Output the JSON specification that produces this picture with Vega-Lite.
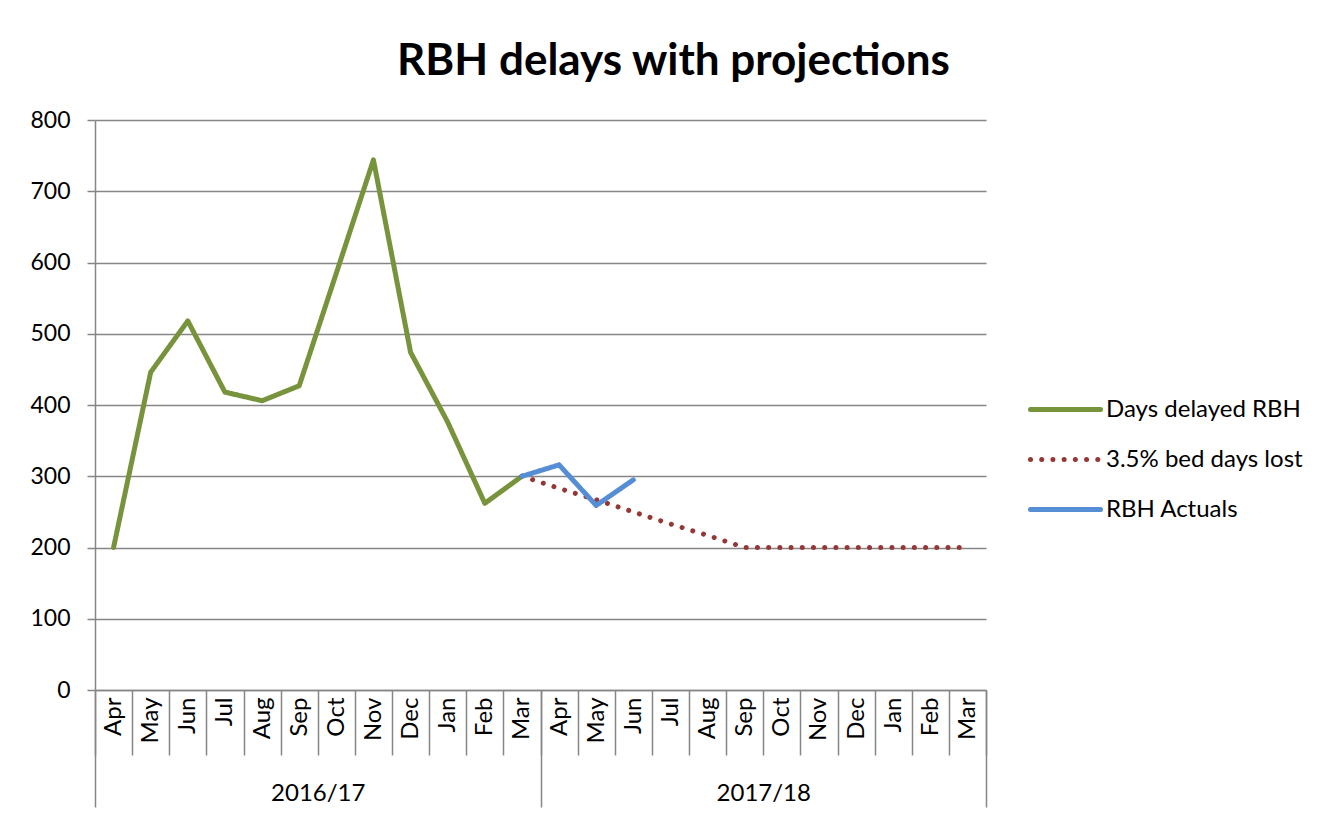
{
  "$schema": "https://vega.github.io/schema/vega-lite/v6.json",
  "width": 891,
  "height": 570,
  "autosize": {"type": "none"},
  "padding": {"left": 95, "top": 120, "right": 335, "bottom": 130},
  "background": "white",
  "title": {
    "text": "RBH delays with projections",
    "font": "Lato",
    "fontSize": 44,
    "fontWeight": "bold",
    "color": "black",
    "anchor": "middle",
    "frame": "group",
    "dx": 133,
    "offset": 25
  },
  "config": {
    "view": {"stroke": null},
    "font": "Lato"
  },
  "data": {
    "values": [
      {"key": "2016/17|Apr", "year": "2016/17", "series": "Days delayed RBH", "value": 200},
      {"key": "2016/17|May", "year": "2016/17", "series": "Days delayed RBH", "value": 446},
      {"key": "2016/17|Jun", "year": "2016/17", "series": "Days delayed RBH", "value": 518},
      {"key": "2016/17|Jul", "year": "2016/17", "series": "Days delayed RBH", "value": 418},
      {"key": "2016/17|Aug", "year": "2016/17", "series": "Days delayed RBH", "value": 406},
      {"key": "2016/17|Sep", "year": "2016/17", "series": "Days delayed RBH", "value": 427},
      {"key": "2016/17|Oct", "year": "2016/17", "series": "Days delayed RBH", "value": 585},
      {"key": "2016/17|Nov", "year": "2016/17", "series": "Days delayed RBH", "value": 744},
      {"key": "2016/17|Dec", "year": "2016/17", "series": "Days delayed RBH", "value": 474},
      {"key": "2016/17|Jan", "year": "2016/17", "series": "Days delayed RBH", "value": 376},
      {"key": "2016/17|Feb", "year": "2016/17", "series": "Days delayed RBH", "value": 262},
      {"key": "2016/17|Mar", "year": "2016/17", "series": "Days delayed RBH", "value": 300},
      {"key": "2016/17|Mar", "year": "2016/17", "series": "3.5% bed days lost", "value": 300},
      {"key": "2017/18|Apr", "year": "2017/18", "series": "3.5% bed days lost", "value": 283},
      {"key": "2017/18|May", "year": "2017/18", "series": "3.5% bed days lost", "value": 267},
      {"key": "2017/18|Jun", "year": "2017/18", "series": "3.5% bed days lost", "value": 250},
      {"key": "2017/18|Jul", "year": "2017/18", "series": "3.5% bed days lost", "value": 233},
      {"key": "2017/18|Aug", "year": "2017/18", "series": "3.5% bed days lost", "value": 217},
      {"key": "2017/18|Sep", "year": "2017/18", "series": "3.5% bed days lost", "value": 200},
      {"key": "2017/18|Oct", "year": "2017/18", "series": "3.5% bed days lost", "value": 200},
      {"key": "2017/18|Nov", "year": "2017/18", "series": "3.5% bed days lost", "value": 200},
      {"key": "2017/18|Dec", "year": "2017/18", "series": "3.5% bed days lost", "value": 200},
      {"key": "2017/18|Jan", "year": "2017/18", "series": "3.5% bed days lost", "value": 200},
      {"key": "2017/18|Feb", "year": "2017/18", "series": "3.5% bed days lost", "value": 200},
      {"key": "2017/18|Mar", "year": "2017/18", "series": "3.5% bed days lost", "value": 200},
      {"key": "2016/17|Mar", "year": "2016/17", "series": "RBH Actuals", "value": 300},
      {"key": "2017/18|Apr", "year": "2017/18", "series": "RBH Actuals", "value": 316},
      {"key": "2017/18|May", "year": "2017/18", "series": "RBH Actuals", "value": 259},
      {"key": "2017/18|Jun", "year": "2017/18", "series": "RBH Actuals", "value": 295}
    ]
  },
  "encoding": {
    "y": {
      "field": "value",
      "type": "quantitative",
      "scale": {"domain": [0, 800], "nice": false, "zero": true},
      "axis": {
        "title": null,
        "values": [0, 100, 200, 300, 400, 500, 600, 700, 800],
        "grid": true,
        "gridColor": "#868686",
        "gridWidth": 1.5,
        "domainColor": "#868686",
        "domainWidth": 1.5,
        "tickColor": "#868686",
        "tickWidth": 1.5,
        "tickSize": 8,
        "labelPadding": 17,
        "labelFont": "Lato",
        "labelFontSize": 23,
        "labelColor": "black"
      }
    }
  },
  "layer": [
    {
      "mark": {"type": "tick", "opacity": 0},
      "encoding": {
        "x": {
          "field": "year",
          "type": "ordinal",
          "scale": {"type": "band", "domain": ["2016/17", "2017/18"], "paddingInner": 0, "paddingOuter": 0},
          "axis": {
            "orient": "bottom",
            "title": null,
            "domain": false,
            "tickBand": "extent",
            "tickSize": 117,
            "tickColor": "#868686",
            "tickWidth": 1.5,
            "labelAngle": 0,
            "labelPadding": -26,
            "labelFont": "Lato",
            "labelFontSize": 24,
            "labelColor": "black"
          }
        }
      }
    },
    {
      "mark": {"type": "line", "strokeWidth": 5, "strokeCap": "round", "strokeJoin": "round"},
      "encoding": {
        "x": {
          "field": "key",
          "type": "ordinal",
          "bandPosition": 0.5,
          "scale": {
            "type": "band",
            "paddingInner": 0,
            "paddingOuter": 0,
            "domain": ["2016/17|Apr", "2016/17|May", "2016/17|Jun", "2016/17|Jul", "2016/17|Aug", "2016/17|Sep", "2016/17|Oct", "2016/17|Nov", "2016/17|Dec", "2016/17|Jan", "2016/17|Feb", "2016/17|Mar", "2017/18|Apr", "2017/18|May", "2017/18|Jun", "2017/18|Jul", "2017/18|Aug", "2017/18|Sep", "2017/18|Oct", "2017/18|Nov", "2017/18|Dec", "2017/18|Jan", "2017/18|Feb", "2017/18|Mar"]
          },
          "axis": {
            "orient": "bottom",
            "title": null,
            "tickBand": "extent",
            "tickSize": 65,
            "tickColor": "#868686",
            "tickWidth": 1.5,
            "domainColor": "#868686",
            "domainWidth": 1.5,
            "labelExpr": "split(datum.value, '|')[1]",
            "labelAngle": -90,
            "labelAlign": "right",
            "labelBaseline": "middle",
            "labelPadding": -58,
            "labelFont": "Lato",
            "labelFontSize": 24,
            "labelColor": "black"
          }
        },
        "color": {
          "field": "series",
          "type": "nominal",
          "scale": {
            "domain": ["Days delayed RBH", "3.5% bed days lost", "RBH Actuals"],
            "range": ["#77933C", "#953735", "#558ED5"]
          },
          "legend": {
            "title": null,
            "orient": "none",
            "legendX": 933,
            "legendY": 252,
            "symbolType": "stroke",
            "symbolSize": 4900,
            "symbolStrokeWidth": 5,
            "labelFont": "Lato",
            "labelFontSize": 24,
            "labelColor": "black",
            "labelLimit": 400,
            "labelOffset": 3,
            "rowPadding": -24.5,
            "padding": 0,
            "encode": {"symbols": {"update": {"strokeCap": {"value": "round"}}}}
          }
        },
        "strokeDash": {
          "field": "series",
          "type": "nominal",
          "scale": {
            "domain": ["Days delayed RBH", "3.5% bed days lost", "RBH Actuals"],
            "range": [[1, 0], [0.01, 11.2], [1, 0]]
          },
          "legend": {
            "title": null,
            "orient": "none",
            "legendX": 933,
            "legendY": 252,
            "symbolType": "stroke",
            "symbolSize": 4900,
            "symbolStrokeWidth": 5,
            "labelFont": "Lato",
            "labelFontSize": 24,
            "labelColor": "black",
            "labelLimit": 400,
            "labelOffset": 3,
            "rowPadding": -24.5,
            "padding": 0,
            "encode": {"symbols": {"update": {"strokeCap": {"value": "round"}}}}
          }
        }
      }
    }
  ],
  "resolve": {"scale": {"x": "independent"}, "axis": {"x": "independent"}}
}
